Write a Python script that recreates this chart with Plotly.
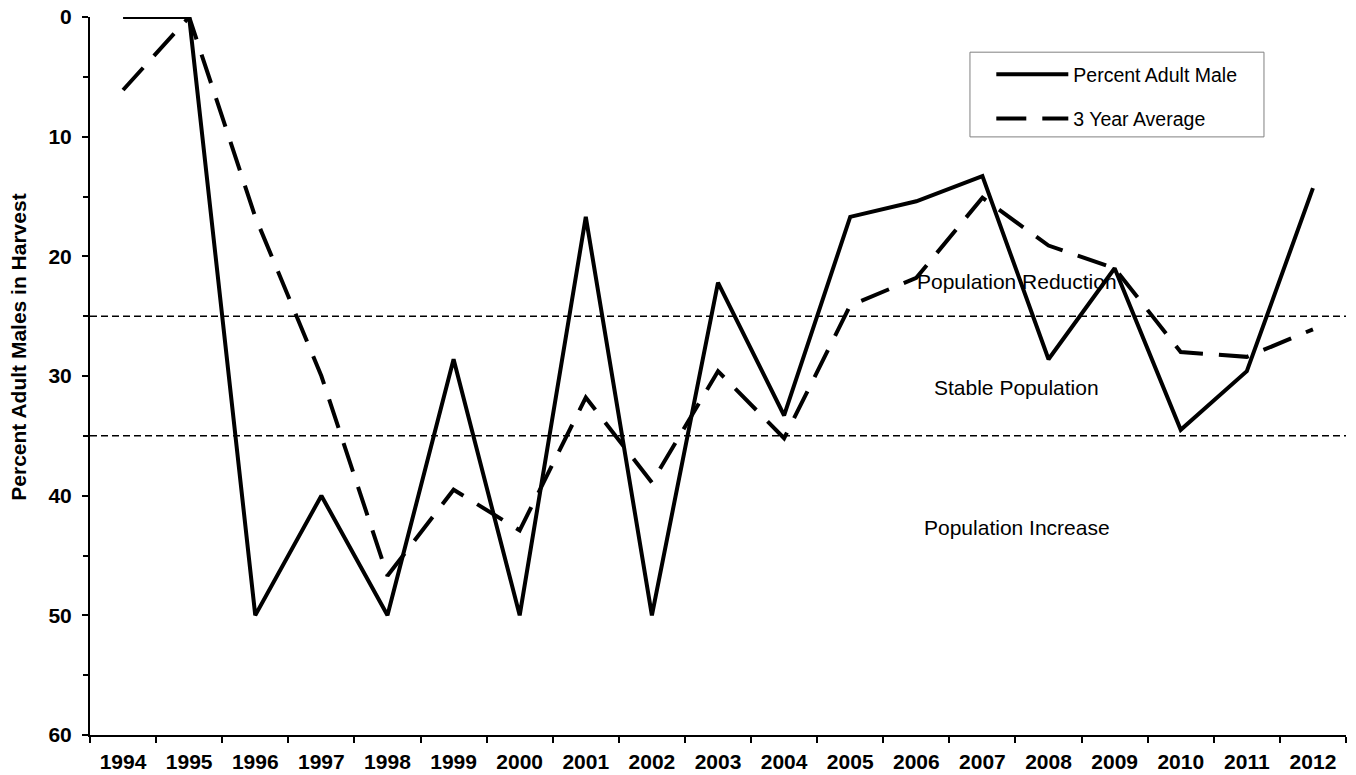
import plotly.graph_objects as go

years = [str(y) for y in range(1994, 2013)]
pct_adult_male = [0, 0, 50, 40, 50, 28.6, 50, 16.7, 50, 22.2, 33.3,
                  16.7, 15.4, 13.3, 28.6, 21.0, 34.5, 29.6, 14.3]
three_year_avg = [6.1, 0, 16.7, 30.0, 46.7, 39.5, 42.9, 31.8, 38.9, 29.6,
                  35.2, 24.1, 21.8, 15.1, 19.1, 21.0, 28.0, 28.4, 26.1]
thresholds = [25, 35]
zone_labels = ["Population Reduction", "Stable Population", "Population Increase"]
zone_y = [22.1, 31.0, 42.7]

FONT = "Arial, Liberation Sans, sans-serif"

fig = go.Figure()
fig.add_trace(go.Scatter(
    x=years, y=pct_adult_male, mode="lines", name="Percent Adult Male",
    legendgroup="a", line=dict(color="black", width=4)))
fig.add_trace(go.Scatter(
    x=years, y=three_year_avg, mode="lines", name="3 Year Average",
    legendgroup="b", line=dict(color="black", width=4, dash="30px,16px")))

for t in thresholds:
    fig.add_hline(y=t, line=dict(color="black", width=1.5, dash="7px,4px"))

for lab, yv in zip(zone_labels, zone_y):
    fig.add_annotation(x=0.738, xref="paper", y=yv, yref="y", text=lab,
                       xanchor="center", yanchor="middle", showarrow=False,
                       font=dict(size=21, color="black", family=FONT))

# y-axis title placed by hand (sits a bit above the plot centre)
fig.add_annotation(x=-0.057, xref="paper", y=0.54, yref="paper",
                   text="Percent Adult Males in Harvest", textangle=-90,
                   xanchor="center", yanchor="middle", showarrow=False,
                   font=dict(size=21, color="black", family=FONT,
                             weight="bold"))

# legend frame
fig.add_shape(type="rect", xref="paper", yref="paper",
              x0=0.7006, x1=0.9347, y0=0.833, y1=0.951,
              line=dict(color="#808080", width=1), fillcolor="white",
              layer="below")

# page body has an 8px margin, so the figure is a little smaller
fig.update_layout(
    width=1348, height=767,
    margin=dict(l=82, r=10, t=9, b=40),
    paper_bgcolor="white", plot_bgcolor="white",
    font=dict(family=FONT, color="black"),
    showlegend=True,
    legend=dict(x=0.7176, y=0.947, xanchor="left", yanchor="top",
                borderwidth=0, bgcolor="rgba(0,0,0,0)",
                font=dict(size=19.5, color="black", family=FONT),
                tracegroupgap=16, itemwidth=72),
    xaxis=dict(type="category", range=[-0.5, 18.5], tickson="boundaries",
               ticks="outside", ticklen=6, tickwidth=2, tickcolor="black",
               showline=True, linecolor="black", linewidth=2,
               showgrid=False, zeroline=False, automargin=False,
               tickfont=dict(size=21, family=FONT, color="black",
                             weight="bold"),
               ticklabelstandoff=7, ticklabeloverflow="allow"),
    yaxis=dict(range=[60, 0], tickvals=[0, 10, 20, 30, 40, 50, 60],
               ticks="outside", ticklen=6, tickwidth=2, tickcolor="black",
               minor=dict(dtick=5, ticks="outside", ticklen=5, tickwidth=2,
                          tickcolor="black"),
               showline=True, linecolor="black", linewidth=2,
               showgrid=False, zeroline=False, automargin=False,
               tickfont=dict(size=21, color="black", family=FONT,
                             weight="bold"),
               ticklabelstandoff=6, ticklabeloverflow="allow"),
)

fig.write_html("out.html")
